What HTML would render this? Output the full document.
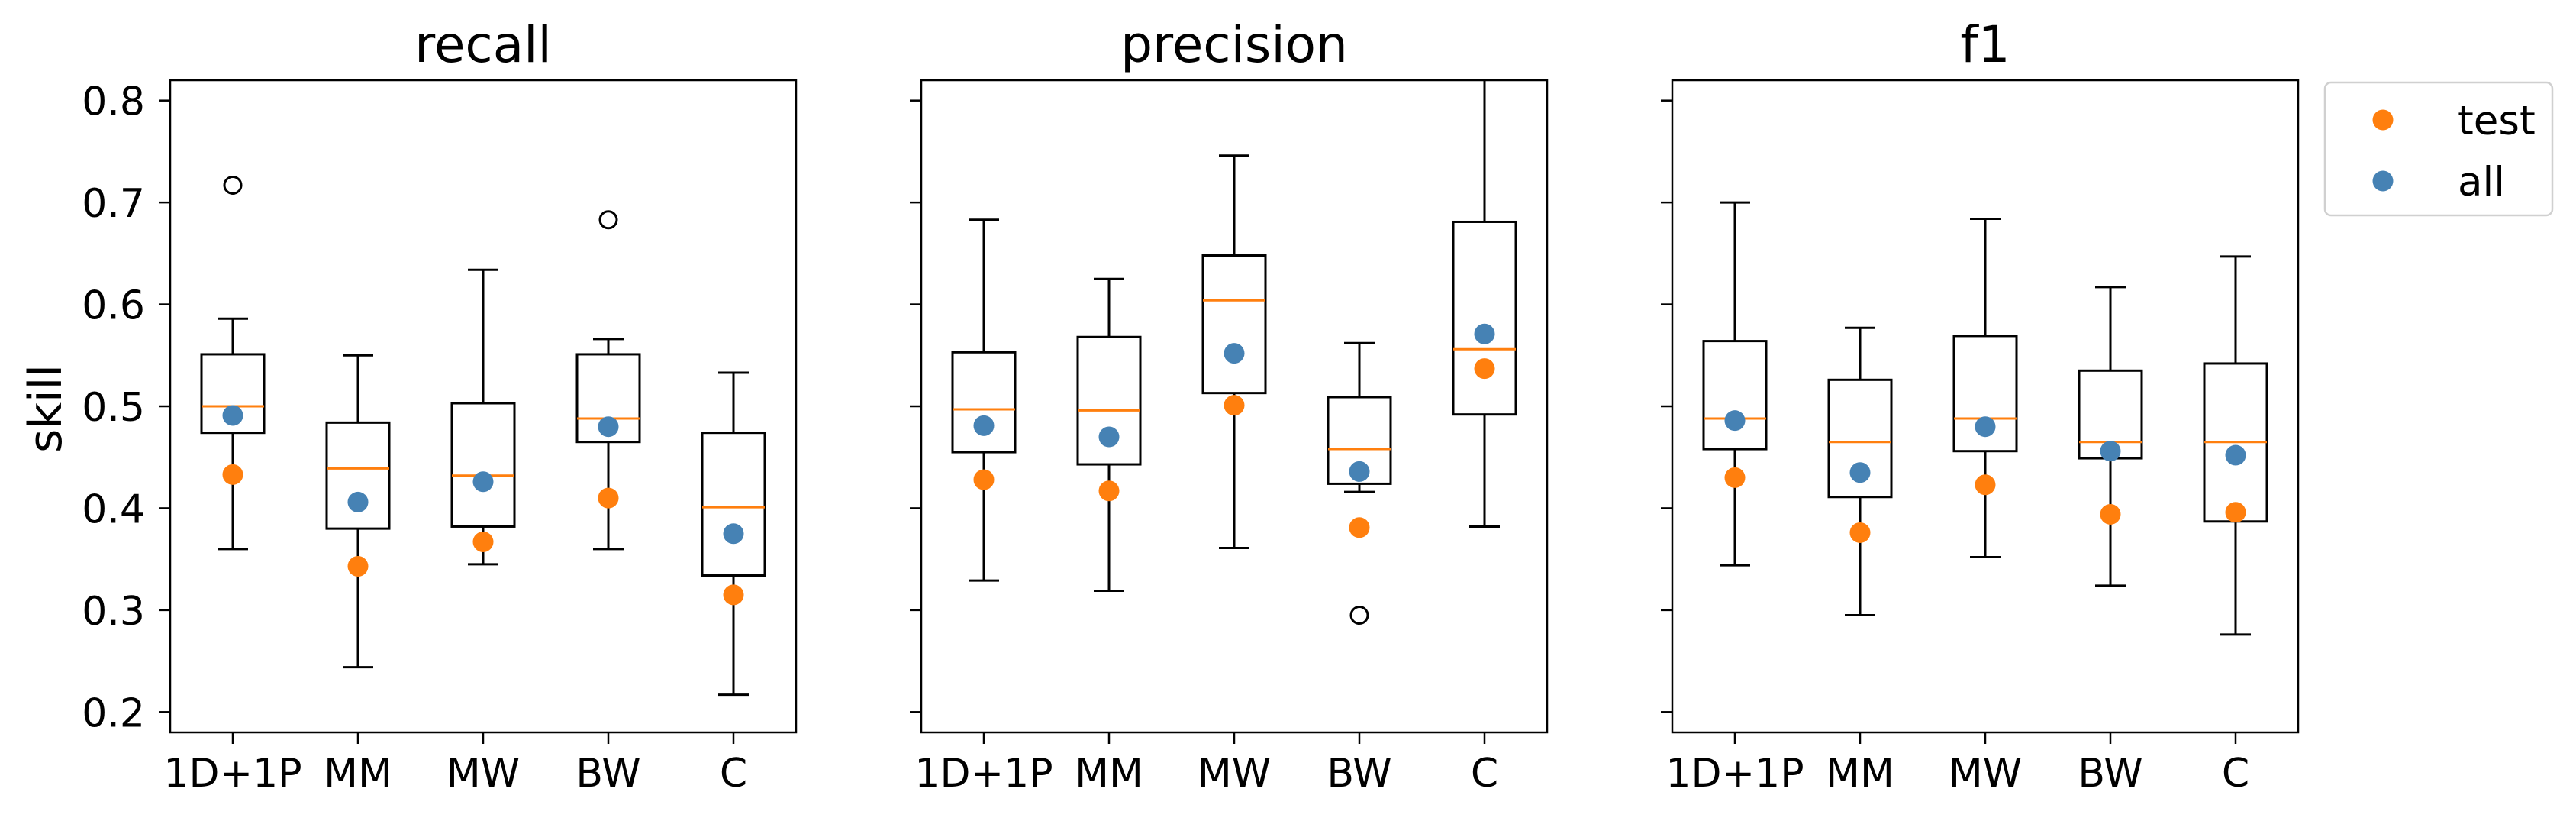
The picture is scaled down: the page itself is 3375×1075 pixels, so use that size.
<!DOCTYPE html>
<html><head><meta charset="utf-8"><style>
html,body{margin:0;padding:0;background:#fff;}
svg text{font-family:"DejaVu Sans","Liberation Sans",sans-serif;fill:#000;}
</style></head><body>
<svg id="chart" width="3375" height="1070" xmlns="http://www.w3.org/2000/svg"></svg>
<script>
const categories = ["1D+1P","MM","MW","BW","C"];
const panelTitles = ["recall","precision","f1"];
const yTicks = [0.2,0.3,0.4,0.5,0.6,0.7,0.8];
const yTickLabels = ["0.2","0.3","0.4","0.5","0.6","0.7","0.8"];
// per panel: [whiskLo, q1, median, q3, whiskHi]
const recallBox = [[0.360,0.474,0.500,0.551,0.586],[0.244,0.380,0.439,0.484,0.550],[0.345,0.382,0.432,0.503,0.634],[0.360,0.465,0.488,0.551,0.566],[0.217,0.334,0.401,0.474,0.533]];
const precisionBox = [[0.329,0.455,0.497,0.553,0.683],[0.319,0.443,0.496,0.568,0.625],[0.361,0.513,0.604,0.648,0.746],[0.416,0.424,0.458,0.509,0.562],[0.382,0.492,0.556,0.681,0.870]];
const f1Box = [[0.344,0.458,0.488,0.564,0.700],[0.295,0.411,0.465,0.526,0.577],[0.352,0.456,0.488,0.569,0.684],[0.324,0.449,0.465,0.535,0.617],[0.276,0.387,0.465,0.542,0.647]];
const recallOutliers = [[0,0.717],[3,0.683]];
const precisionOutliers = [[3,0.295]];
const f1Outliers = [];
const recallAll = [0.491,0.406,0.426,0.480,0.375];
const recallTest = [0.433,0.343,0.367,0.410,0.315];
const precisionAll = [0.481,0.470,0.552,0.436,0.571];
const precisionTest = [0.428,0.417,0.501,0.381,0.537];
const f1All = [0.486,0.435,0.480,0.456,0.452];
const f1Test = [0.430,0.376,0.423,0.394,0.396];

const NS="http://www.w3.org/2000/svg";
const svg=document.getElementById('chart');
function mk(tag,attrs,parent){const e=document.createElementNS(NS,tag);for(const k in attrs)e.setAttribute(k,attrs[k]);(parent||svg).appendChild(e);return e;}

const boxes=[recallBox,precisionBox,f1Box];
const outs=[recallOutliers,precisionOutliers,f1Outliers];
const alls=[recallAll,precisionAll,f1All];
const tests=[recallTest,precisionTest,f1Test];
const TOP=105,BOT=959,YMIN=0.18,YMAX=0.82,W=820;
function y(v){return BOT-(v-YMIN)/(YMAX-YMIN)*(BOT-TOP);}
const ORANGE="#ff7f0e",BLUE="#4682b4";

for(let p=0;p<3;p++){
  const L=223+p*984;
  const x=i=>L+(i+1)*W/5-W/10;
  const g=mk('g',{});
  
  
  const clipId='clip'+p;
  const cp=mk('clipPath',{id:clipId},g);mk('rect',{x:L,y:TOP,width:W,height:BOT-TOP},cp);
  const t=mk('text',{x:L+W/2,y:81,'font-size':66,'text-anchor':'middle'},g);t.textContent=panelTitles[p];
  
  
  yTicks.forEach((v,k)=>{
    mk('line',{x1:L-15,x2:L,y1:y(v),y2:y(v),stroke:'#000','stroke-width':2.5},g);
    if(p===0){const tl=mk('text',{x:L-33,y:y(v)+19,'font-size':52,'text-anchor':'end'},g);tl.textContent=yTickLabels[k];
      
      }
  });
  categories.forEach((c,i)=>{
    mk('line',{x1:x(i),x2:x(i),y1:BOT,y2:BOT+15,stroke:'#000','stroke-width':2.5},g);
    const tl=mk('text',{x:x(i),y:1030,'font-size':52,'text-anchor':'middle'},g);tl.textContent=c;
    
    
  });
  const plot=mk('g',{'clip-path':'url(#'+clipId+')'},g);
  boxes[p].forEach((b,i)=>{
    const cx=x(i),hw=41,cw=20;
    const bg=mk('g',{},plot);
    
    
    mk('line',{x1:cx,x2:cx,y1:y(b[0]),y2:y(b[1]),stroke:'#000','stroke-width':3},bg);
    mk('line',{x1:cx,x2:cx,y1:y(b[3]),y2:y(b[4]),stroke:'#000','stroke-width':3},bg);
    mk('line',{x1:cx-cw,x2:cx+cw,y1:y(b[0]),y2:y(b[0]),stroke:'#000','stroke-width':3},bg);
    mk('line',{x1:cx-cw,x2:cx+cw,y1:y(b[4]),y2:y(b[4]),stroke:'#000','stroke-width':3},bg);
    mk('rect',{x:cx-hw,y:y(b[3]),width:2*hw,height:y(b[1])-y(b[3]),fill:'none',stroke:'#000','stroke-width':3},bg);
    mk('line',{x1:cx-hw,x2:cx+hw,y1:y(b[2]),y2:y(b[2]),stroke:ORANGE,'stroke-width':3},bg);
  });
  outs[p].forEach(o=>{const c=mk('circle',{cx:x(o[0]),cy:y(o[1]),r:11,fill:'none',stroke:'#000','stroke-width':3},plot);
    
    });
  tests[p].forEach((v,i)=>{const c=mk('circle',{cx:x(i),cy:y(v),r:13.5,fill:ORANGE},plot);
    
    });
  alls[p].forEach((v,i)=>{const c=mk('circle',{cx:x(i),cy:y(v),r:13.5,fill:BLUE},plot);
    
    });
  mk('rect',{x:L,y:TOP,width:W,height:BOT-TOP,fill:'none',stroke:'#000','stroke-width':2.5},g);
}
const yl=mk('text',{x:0,y:0,'font-size':60,'text-anchor':'middle',transform:'translate(80,535) rotate(-90)'});
yl.textContent='skill';



const lg=mk('g',{});


mk('rect',{x:3046,y:108,width:298,height:174,rx:8,fill:'#fff',stroke:'#d0d0d0','stroke-width':2.5},lg);
mk('circle',{cx:3122,cy:157,r:13.5,fill:ORANGE},lg);
mk('circle',{cx:3122,cy:237,r:13.5,fill:BLUE},lg);
const t1=mk('text',{x:3220,y:176,'font-size':53},lg);t1.textContent='test';


const t2=mk('text',{x:3220,y:256,'font-size':53},lg);t2.textContent='all';


</script>
</body></html>
